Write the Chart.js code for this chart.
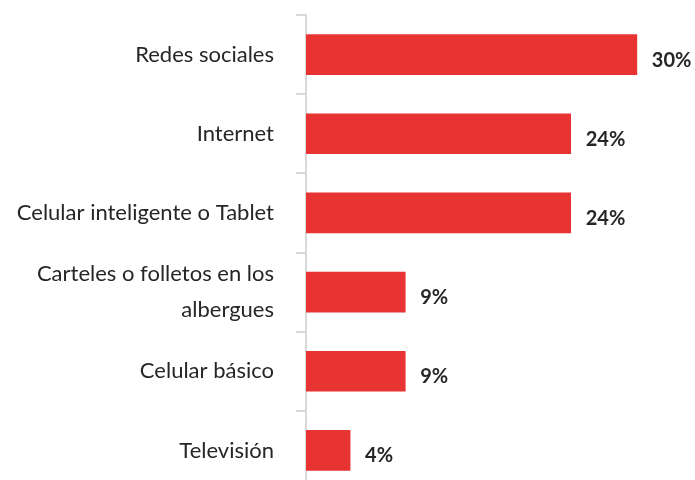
<!DOCTYPE html>
<html>
<head>
<meta charset="utf-8">
<script src="https://cdn.jsdelivr.net/npm/chart.js@4"></script>
<style>
  html, body { margin: 0; padding: 0; background: #fff; overflow: hidden; }
  #wrap { width: 695px; height: 490px; position: relative; }
</style>
</head>
<body>
<div id="wrap"><canvas id="myChart"></canvas></div>
<script>
// share of people reached by each channel (%)
const categories = [
  "Redes sociales",
  "Internet",
  "Celular inteligente o Tablet",
  ["Carteles o folletos en los", "albergues"],
  "Celular básico",
  "Televisión",
];
const values = [30, 24, 24, 9, 9, 4];

const barColor = "#e83333";
const textColor = "#262626";
const fontFamily = "Lato, 'Open Sans', sans-serif";

// prints the percentage to the right of each bar
const valueLabels = {
  id: "valueLabels",
  afterDatasetsDraw(chart) {
    const ctx = chart.ctx;
    const meta = chart.getDatasetMeta(0);
    ctx.save();
    ctx.font = "bold 20px " + fontFamily;
    ctx.fillStyle = textColor;
    ctx.textBaseline = "alphabetic";
    ctx.textAlign = "left";
    meta.data.forEach((bar, i) => {
      ctx.fillText(values[i] + "%", bar.x + 15, bar.y + 12);
    });
    ctx.restore();
  },
};

var ctx = document.getElementById("myChart").getContext("2d");
var chart = new Chart(ctx, {
  type: "bar",
  data: {
    labels: categories,
    datasets: [
      {
        data: values,
        backgroundColor: barColor,
        barThickness: 40,
      },
    ],
  },
  options: {
    indexAxis: "y",
    responsive: true,
    maintainAspectRatio: false,
    animation: false,
    layout: { padding: { top: 15, right: 3, bottom: 0, left: 0 } },
    plugins: {
      legend: { display: false },
      tooltip: { enabled: false },
    },
    scales: {
      x: {
        display: false,
        min: 0,
        max: 35,
      },
      y: {
        afterFit(scale) {
          // fixed label column, no extra room for the first/last label
          scale.width = 306;
          scale.paddingTop = 0;
          scale.paddingBottom = 0;
        },
        border: { color: "#d9d9d9", width: 2 },
        grid: {
          drawOnChartArea: false,
          drawTicks: true,
          tickLength: 10,
          color: "#d9d9d9",
          lineWidth: 2,
        },
        ticks: {
          padding: 22,
          color: textColor,
          font: { family: fontFamily, size: 22, lineHeight: 1.64 },
        },
      },
    },
  },
  plugins: [valueLabels],
});
</script>
</body>
</html>
